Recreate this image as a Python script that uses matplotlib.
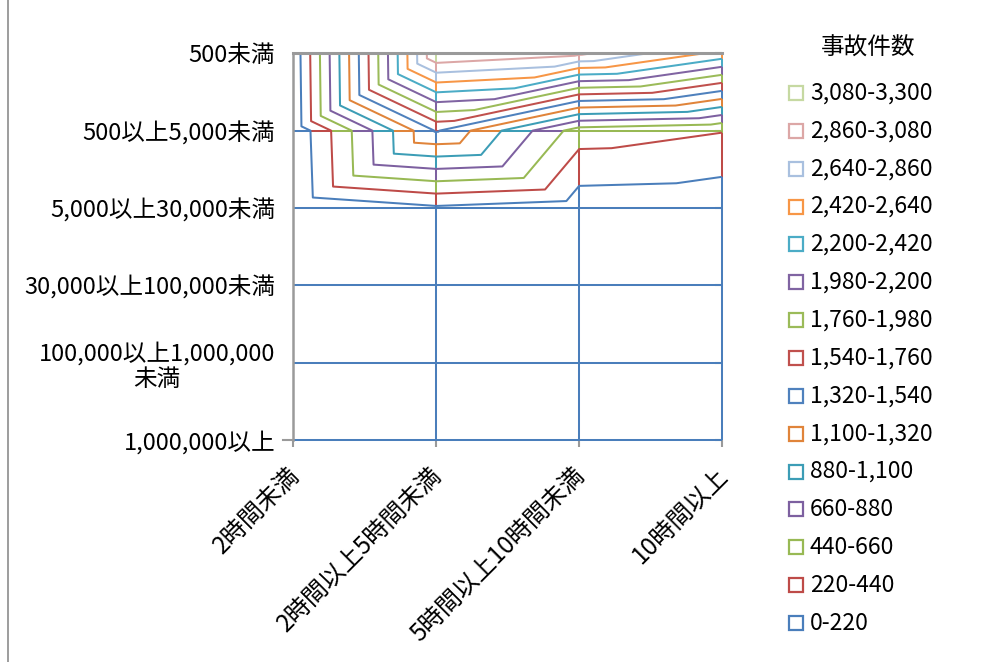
import matplotlib
matplotlib.use("Agg")
import matplotlib.pyplot as plt
import matplotlib.tri as mtri
import matplotlib.transforms as mtransforms
from matplotlib.collections import LineCollection
from matplotlib.lines import Line2D
import numpy as np

plt.rcParams['font.family'] = ['Noto Sans CJK JP', 'DejaVu Sans']

# Categories: driving time (columns) and damage amount (rows, top to bottom)
hours = ['2時間未満', '2時間以上5時間未満', '5時間以上10時間未満', '10時間以上']
amounts = ['500未満', '500以上5,000未満', '5,000以上30,000未満',
           '30,000以上100,000未満', '100,000以上1,000,000\n未満', '1,000,000以上']

# Accident counts per damage-amount row, one value per time category
count_under_500 = [62, 3295, 3130, 2570]
count_500_5000 = [39, 1562, 550, 450]
count_5000_30000 = [10, 184, 88, 65]
count_30000_100000 = [4, 40, 25, 15]
count_100000_1m = [2, 12, 8, 5]
count_over_1m = [1, 3, 2, 1]

# Band boundaries of the contour legend
contour_levels = [0, 220, 440, 660, 880, 1100, 1320, 1540, 1760,
                  1980, 2200, 2420, 2640, 2860, 3080, 3300]

band_colors = ['#4A7EBB', '#BE4B48', '#98B954', '#7D60A0', '#3C9DB6', '#E0843A',
               '#4F81BD', '#C0504D', '#9BBB59', '#8064A2', '#4BACC6', '#F79646',
               '#A9C0DF', '#DCA7A6', '#C6D9A2']

AXIS_GRAY = '#9A9A9A'
LW = 1.45

Z = np.array([count_under_500, count_500_5000, count_5000_30000,
              count_30000_100000, count_100000_1m, count_over_1m], dtype=float)
nrow, ncol = Z.shape

fig = plt.figure(figsize=(9.9, 6.62), dpi=100)
ax = fig.add_axes([0.29646, 0.33535, 0.43283, 0.58414])
ax.set_xlim(0, ncol - 1)
ax.set_ylim(nrow - 1, 0)
for sp in ax.spines.values():
    sp.set_visible(False)

# Node coordinates and a triangulation that splits each cell along the
# diagonal joining the pair of corners with the larger sum
xs, ys = np.meshgrid(np.arange(ncol), np.arange(nrow))
xs = xs.ravel().astype(float)
ys = ys.ravel().astype(float)
zs = Z.ravel()
triangles = []
for r in range(nrow - 1):
    for c in range(ncol - 1):
        tl, tr = r * ncol + c, r * ncol + c + 1
        bl, br = (r + 1) * ncol + c, (r + 1) * ncol + c + 1
        if zs[tl] + zs[br] >= zs[tr] + zs[bl]:
            triangles += [[tl, tr, br], [tl, br, bl]]
        else:
            triangles += [[tl, tr, bl], [tr, br, bl]]
tri = mtri.Triangulation(xs, ys, np.array(triangles))


def band_of(v):
    idx = np.searchsorted(contour_levels, v, side='right') - 1
    return int(np.clip(idx, 0, len(band_colors) - 1))


# Wireframe grid edges, coloured by the band the surface passes through
segs, cols = [], []


def add_edge(p0, p1, z0, z1):
    ts = [0.0, 1.0]
    lo, hi = min(z0, z1), max(z0, z1)
    for lv in contour_levels:
        if lo < lv < hi:
            ts.append((lv - z0) / (z1 - z0))
    ts = sorted(ts)
    for a, b in zip(ts[:-1], ts[1:]):
        pa = (p0[0] + (p1[0] - p0[0]) * a, p0[1] + (p1[1] - p0[1]) * a)
        pb = (p0[0] + (p1[0] - p0[0]) * b, p0[1] + (p1[1] - p0[1]) * b)
        zm = z0 + (z1 - z0) * (a + b) / 2
        segs.append([pa, pb])
        cols.append(band_colors[band_of(zm)])


for r in range(1, nrow):
    for c in range(ncol - 1):
        add_edge((c, r), (c + 1, r), Z[r, c], Z[r, c + 1])
for c in range(1, ncol):
    for r in range(nrow - 1):
        add_edge((c, r), (c, r + 1), Z[r, c], Z[r + 1, c])

ax.add_collection(LineCollection(segs, colors=cols, linewidths=LW,
                                 zorder=2, clip_on=False, capstyle='butt'))

# Contour lines, each drawn in the colour of the band below it
ax.tricontour(tri, zs, levels=contour_levels[1:-1],
              colors=band_colors[:len(contour_levels) - 2],
              linewidths=LW, zorder=3)

# Axis lines (left and top) and the small tick at the lower left
ax.plot([0, 0], [0, nrow - 1], color=AXIS_GRAY, lw=1.8, zorder=5,
        clip_on=False, solid_capstyle='projecting')
ax.plot([0, ncol - 1], [0, 0], color=AXIS_GRAY, lw=2.2, zorder=5,
        clip_on=False, solid_capstyle='projecting')
ax.plot([-0.07, 0], [nrow - 1, nrow - 1], color=AXIS_GRAY, lw=1.5,
        zorder=5, clip_on=False)

# Ticks and labels
ax.set_yticks(range(nrow))
ax.set_yticklabels(amounts, fontsize=17, linespacing=1.15)
for lbl in ax.get_yticklabels():
    lbl.set_multialignment('center')
ax.tick_params(axis='y', left=False, right=True, direction='in',
               length=5, width=1.5, color=AXIS_GRAY, pad=13.3,
               labelleft=True, labelright=False)

ax.set_xticks(range(ncol))
ax.set_xticklabels(hours, fontsize=17.5, rotation=45, ha='right',
                   va='center', rotation_mode='anchor')
ax.tick_params(axis='x', bottom=True, direction='out', length=5,
               width=1.5, color=AXIS_GRAY, pad=17.8)
shift = mtransforms.ScaledTranslation(2.0 / 100, 0, fig.dpi_scale_trans)
for lbl in ax.get_xticklabels():
    lbl.set_transform(lbl.get_transform() + shift)

# Legend: highest band first
H = 662.0
W = 990.0
fig.text(868 / W, 1 - 48 / H, '事故件数', fontsize=17,
         ha='center', va='center')
n_bands = len(band_colors)
for k in range(n_bands):
    b = n_bands - 1 - k
    yk = 1 - (93 + 37.86 * k) / H
    fig.add_artist(Line2D([796 / W], [yk], marker='s', markersize=10,
                          markerfacecolor='white',
                          markeredgecolor=band_colors[b],
                          markeredgewidth=1.6, linestyle='none'))
    label = f'{contour_levels[b]:,}-{contour_levels[b + 1]:,}'
    fig.text(810 / W, yk, label, fontsize=16.5, ha='left', va='center')

# Chart area border on the left
fig.add_artist(Line2D([8 / W, 8 / W], [0, 1], color='#8C8C8C', lw=1.2))

fig.savefig('out.png', dpi=100)
